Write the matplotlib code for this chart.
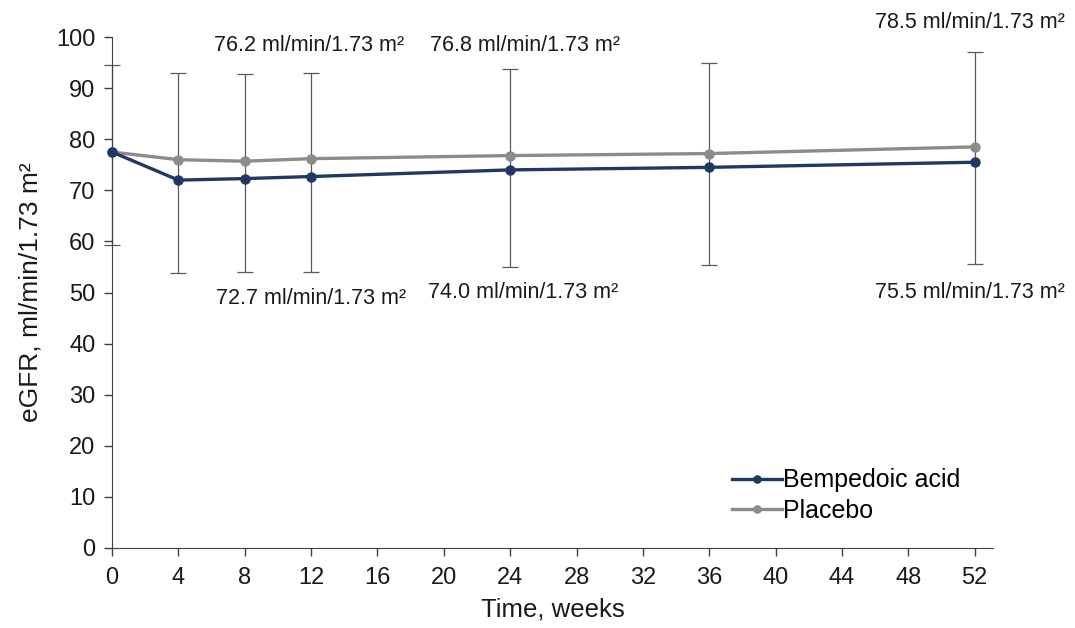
import matplotlib
matplotlib.use('Agg')
import matplotlib.pyplot as plt

plt.rcParams['font.family'] = ['Liberation Sans', 'DejaVu Sans']

# Data
weeks = [0, 4, 8, 12, 24, 36, 52]
bempedoic = [77.5, 72.0, 72.3, 72.7, 74.0, 74.5, 75.5]
placebo = [77.5, 76.0, 75.7, 76.2, 76.8, 77.2, 78.5]
err_low = [59.3, 53.8, 54.0, 54.0, 55.0, 55.4, 55.6]
err_high = [94.5, 93.0, 92.8, 93.0, 93.8, 95.0, 97.0]

top_labels = ['76.2 ml/min/1.73 m²', '76.8 ml/min/1.73 m²', '78.5 ml/min/1.73 m²']
top_pos = [(11.9, 98.3), (24.9, 98.3), (51.7, 102.8)]
bottom_labels = ['72.7 ml/min/1.73 m²', '74.0 ml/min/1.73 m²', '75.5 ml/min/1.73 m²']
bottom_pos = [(12.0, 48.9), (24.8, 50.0), (51.7, 50.0)]

navy = '#1f3864'
grey = '#8c8c8c'
txt_col = '#1a1a1a'

fig = plt.figure(figsize=(10.75, 6.28), dpi=100)
ax = fig.add_axes([0.1042, 0.1274, 0.8195, 0.8136])

# error bars spanning the range at each time point
yerr = [[b - lo for b, lo in zip(bempedoic, err_low)],
        [hi - b for b, hi in zip(bempedoic, err_high)]]
ax.errorbar(weeks, bempedoic, yerr=yerr, fmt='none', ecolor='#595959',
            elinewidth=0.9, capsize=6, capthick=0.9, zorder=1, clip_on=False)

ax.plot(weeks, placebo, color=grey, lw=2.4, marker='o', ms=6.5, label='Placebo',
        zorder=3, clip_on=False)
ax.plot(weeks, bempedoic, color=navy, lw=2.4, marker='o', ms=6.5, label='Bempedoic acid',
        zorder=4, clip_on=False)

for txt, (x, y) in zip(top_labels, top_pos):
    ax.text(x, y, txt, ha='center', va='center', fontsize=15.5, color=txt_col)
for txt, (x, y) in zip(bottom_labels, bottom_pos):
    ax.text(x, y, txt, ha='center', va='center', fontsize=15.5, color=txt_col)

ax.set_xlim(0, 53.1)
ax.set_ylim(0, 100)
ax.set_xticks(range(0, 53, 4))
ax.set_yticks(range(0, 101, 10))
ax.tick_params(labelsize=17, direction='out', length=6, width=1, colors='#404040',
               labelcolor=txt_col)
ax.tick_params(axis='y', pad=6)
ax.tick_params(axis='x', pad=8)
ax.spines['top'].set_visible(False)
ax.spines['right'].set_visible(False)
for s in ['left', 'bottom']:
    ax.spines[s].set_color('#404040')
ax.set_xlabel('Time, weeks', fontsize=18.5, color=txt_col, labelpad=6)
ax.set_ylabel('eGFR, ml/min/1.73 m²', fontsize=19, color=txt_col, labelpad=10)

h, l = ax.get_legend_handles_labels()
ax.legend(h[::-1], l[::-1], loc='lower right', bbox_to_anchor=(0.974, 0.03),
          frameon=False, fontsize=18, handlelength=2.0, handletextpad=0.05,
          labelspacing=0.25, markerscale=0.8, borderaxespad=0)

fig.savefig('out.png', dpi=100)
